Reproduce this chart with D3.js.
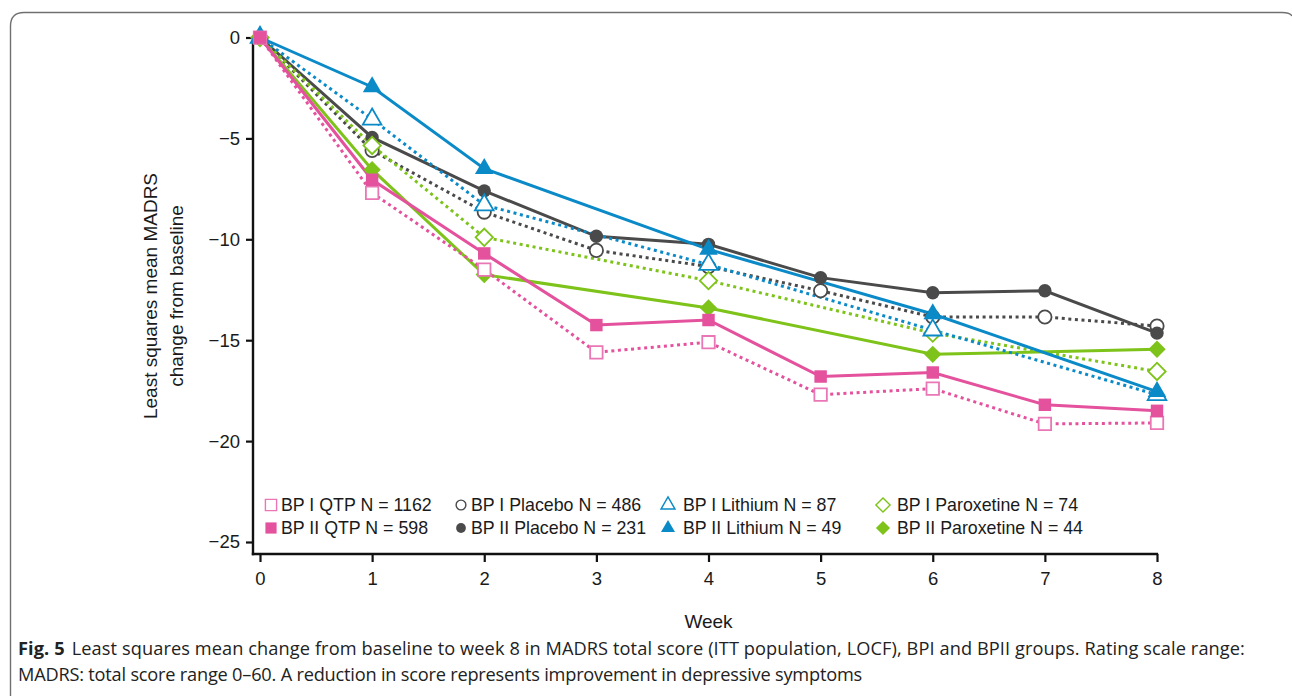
<!DOCTYPE html>
<html>
<head>
<meta charset="utf-8">
<script src="https://cdn.jsdelivr.net/npm/d3@7"></script>
<style>
  html, body { margin: 0; padding: 0; background: #fff; }
  svg { display: block; }
</style>
</head>
<body>
<svg id="chart" width="1292" height="696"></svg>
<script>
// Weeks of assessment
const weeks = [0, 1, 2, 3, 4, 5, 6, 7, 8];
const weeksSparse = [0, 1, 2, 4, 6, 8];

// LS mean change from baseline in MADRS total score
const bp1Qtp      = [0, -7.7, -11.5, -15.6, -15.1, -17.7, -17.4, -19.15, -19.1];
const bp2Qtp      = [0, -7.05, -10.7, -14.25, -14.0, -16.8, -16.6, -18.2, -18.5];
const bp1Placebo  = [0, -5.6, -8.65, -10.55, -11.35, -12.55, -13.85, -13.85, -14.3];
const bp2Placebo  = [0, -4.95, -7.6, -9.85, -10.25, -11.9, -12.65, -12.55, -14.65];
const bp1Lithium  = [0, -4.05, -8.3, -11.25, -14.5, -17.7];
const bp2Lithium  = [0, -2.45, -6.5, -10.5, -13.7, -17.55];
const bp1Parox    = [0, -5.35, -9.9, -12.05, -14.65, -16.55];
const bp2Parox    = [0, -6.55, -11.75, -13.4, -15.7, -15.45];

// Axis ticks
const yTicks = [0, -5, -10, -15, -20, -25];
const xTicks = [0, 1, 2, 3, 4, 5, 6, 7, 8];

// Legend labels
const legendLabels = [
  "BP I QTP N = 1162", "BP II QTP N = 598",
  "BP I Placebo N = 486", "BP II Placebo N = 231",
  "BP I Lithium N = 87", "BP II Lithium N = 49",
  "BP I Paroxetine N = 74", "BP II Paroxetine N = 44"
];

const PINK = "#e4519d", PINK_LIGHT = "#ea77b5", GRAY = "#4a4a4a", BLUE = "#0b8ac8", GREEN = "#7ec31a";

const series = [
  { x: weeks, y: bp1Placebo, color: GRAY, open: true, shape: "circle", label: legendLabels[2] },
  { x: weeks, y: bp2Placebo, color: GRAY, open: false, shape: "circle", label: legendLabels[3] },
  { x: weeksSparse, y: bp1Parox, color: GREEN, open: true, shape: "diamond", label: legendLabels[6] },
  { x: weeksSparse, y: bp2Parox, color: GREEN, open: false, shape: "diamond", label: legendLabels[7] },
  { x: weeksSparse, y: bp1Lithium, color: BLUE, open: true, shape: "triangle", label: legendLabels[4] },
  { x: weeksSparse, y: bp2Lithium, color: BLUE, open: false, shape: "triangle", label: legendLabels[5] },
  { x: weeks, y: bp1Qtp, color: PINK, stroke: PINK_LIGHT, open: true, shape: "square", label: legendLabels[0] },
  { x: weeks, y: bp2Qtp, color: PINK, open: false, shape: "square", label: legendLabels[1] }
];

const svg = d3.select("#chart");

// Figure frame
svg.append("path")
  .attr("d", "M10.5,700 L10.5,26 Q10.5,12.5 24,12.5 L1282,12.5 Q1290,12.5 1292,16")
  .attr("fill", "none").attr("stroke", "#707070").attr("stroke-width", 1.4);

const x = d3.scaleLinear().domain([0, 8]).range([260, 1157]);
const y = d3.scaleLinear().domain([0, -25]).range([37.5, 542]);

const axisX0 = 253, axisYBottom = 554;
const FONT = "'Liberation Sans', Arial, Helvetica, sans-serif";

// Y axis
const gy = svg.append("g").attr("transform", `translate(${axisX0},0)`)
  .call(d3.axisLeft(y).tickValues(yTicks).tickSize(7).tickPadding(6));
gy.select(".domain").remove();
gy.selectAll(".tick line").attr("stroke", "#111").attr("stroke-width", 2.2);
gy.selectAll(".tick text").attr("font-family", FONT).attr("font-size", 18.5).attr("fill", "#1a1a1a");
svg.append("line").attr("x1", axisX0).attr("x2", axisX0).attr("y1", y(0) - 1).attr("y2", axisYBottom + 1.2)
  .attr("stroke", "#111").attr("stroke-width", 2.4);

// X axis
const gx = svg.append("g").attr("transform", `translate(0,${axisYBottom})`)
  .call(d3.axisBottom(x).tickValues(xTicks).tickSize(8).tickPadding(10).tickFormat(d3.format("d")));
gx.select(".domain").remove();
gx.selectAll(".tick line").attr("stroke", "#111").attr("stroke-width", 2.2);
gx.selectAll(".tick text").attr("font-family", FONT).attr("font-size", 18.5).attr("fill", "#1a1a1a");
svg.append("line").attr("x1", axisX0 - 1.2).attr("x2", x(8) + 1.1).attr("y1", axisYBottom).attr("y2", axisYBottom)
  .attr("stroke", "#111").attr("stroke-width", 2.4);

// Axis titles
svg.append("text").attr("x", x(4)).attr("y", 628).attr("text-anchor", "middle")
  .attr("font-family", FONT).attr("font-size", 19).attr("fill", "#1a1a1a").text("Week");
const yTitle = svg.append("text").attr("transform", "translate(0,296) rotate(-90)")
  .attr("text-anchor", "middle").attr("font-family", FONT).attr("font-size", 19).attr("fill", "#1a1a1a");
yTitle.append("tspan").attr("x", 0).attr("y", 157).text("Least squares mean MADRS");
yTitle.append("tspan").attr("x", 0).attr("y", 183).text("change from baseline");

// Marker shapes
function markerPath(shape, size) {
  const types = { circle: d3.symbolCircle, square: d3.symbolSquare, triangle: d3.symbolTriangle, diamond: d3.symbolSquare };
  return d3.symbol().type(types[shape]).size(size)();
}
const markerSize = { circle: 140, square: 155, triangle: 150, diamond: 150 };

const line = d3.line();

// Lines first, markers after
series.forEach(s => {
  const pts = s.x.map((w, i) => [x(w), y(s.y[i])]);
  svg.append("path").attr("d", line(pts)).attr("fill", "none")
    .attr("stroke", s.color).attr("stroke-width", 3)
    .attr("stroke-dasharray", s.open ? "3,3.6" : null);
});
series.forEach(s => {
  s.x.forEach((w, i) => {
    const rot = s.shape === "diamond" ? " rotate(45)" : "";
    svg.append("path").attr("d", markerPath(s.shape, markerSize[s.shape]))
      .attr("transform", `translate(${x(w)},${y(s.y[i])})${rot}`)
      .attr("fill", s.open ? "#fff" : s.color)
      .attr("stroke", s.open ? (s.stroke || s.color) : "none")
      .attr("stroke-width", 1.8);
  });
});

// Legend
const legendOrder = [6, 7, 0, 1, 4, 5, 2, 3];
const colX = [271, 461, 668, 883];
const colTextX = [281, 471, 683, 897];
const rowY = [505, 528];
legendOrder.forEach((si, k) => {
  const s = series[si];
  const col = Math.floor(k / 2), row = k % 2;
  const cx = colX[col], cy = rowY[row];
  const small = { circle: 75, square: 125, triangle: 85, diamond: 100 }[s.shape];
  const rot = s.shape === "diamond" ? " rotate(45)" : "";
  svg.append("path").attr("d", markerPath(s.shape, small))
    .attr("transform", `translate(${cx},${cy})${rot}`)
    .attr("fill", s.open ? "#fff" : s.color)
    .attr("stroke", s.open ? (s.stroke || s.color) : "none")
    .attr("stroke-width", 1.4);
  svg.append("text").attr("x", colTextX[col]).attr("y", cy).attr("dy", "0.36em")
    .attr("font-family", FONT).attr("font-size", 17.8).attr("fill", "#1a1a1a").text(s.label);
});

// Caption, spaced to fill its measure
const CAP = "'Open Sans', 'Noto Sans', sans-serif";
function fitSpacing(textSel, targetRight) {
  const node = textSel.node();
  const box = node.getBBox();
  const chars = node.textContent.length;
  const diff = targetRight - (box.x + box.width);
  textSel.attr("letter-spacing", (diff / chars).toFixed(3));
}
const cap1 = svg.append("text").attr("x", 18).attr("y", 655).attr("font-family", CAP).attr("font-size", 18.2).attr("fill", "#222");
cap1.append("tspan").attr("font-weight", "bold").text("Fig. 5");
cap1.append("tspan").attr("dx", 7).text("Least squares mean change from baseline to week 8 in MADRS total score (ITT population, LOCF), BPI and BPII groups. Rating scale range:");
const cap2 = svg.append("text").attr("x", 18).attr("y", 681).attr("font-family", CAP).attr("font-size", 18.2).attr("fill", "#222")
  .text("MADRS: total score range 0–60. A reduction in score represents improvement in depressive symptoms");
fitSpacing(cap1, 1245);
fitSpacing(cap2, 862);
</script>
</body>
</html>
